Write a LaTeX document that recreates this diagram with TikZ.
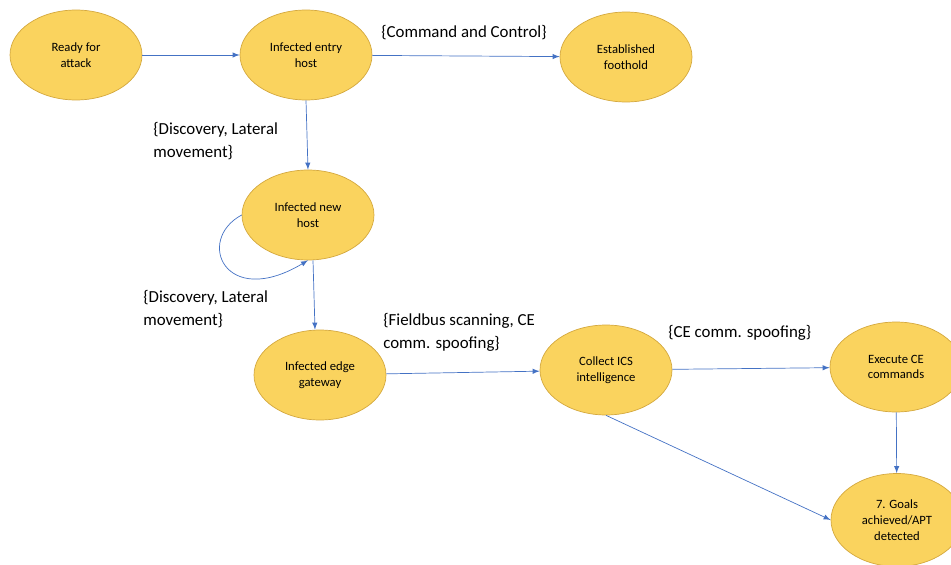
\documentclass[tikz,border=0pt]{standalone}
\usepackage{fontspec}
\setmainfont{Carlito}
\usetikzlibrary{shapes.geometric}
\definecolor{stfill}{RGB}{250,211,94}
\definecolor{stline}{RGB}{212,168,62}
\definecolor{flowblue}{RGB}{68,114,196}
\tikzset{
  state/.style={ellipse, draw=stline, fill=stfill, thin, minimum width=2.64cm, minimum height=1.8cm, inner sep=0pt, align=center, font=\fontsize{7.2}{9}\selectfont},
  flow/.style={draw=flowblue, thin, -latex},
  tactic/.style={anchor=west, inner sep=0pt, align=left, font=\fontsize{9.6}{13}\selectfont}
}
\begin{document}
\begin{tikzpicture}[x=0.02cm, y=-0.02cm]
        \useasboundingbox (0,0) rectangle (951,565);
        \clip (0,0) rectangle (951,565);

        \node[state] (ready) at (76,55) {Ready for\\attack};
        \node[state] (entry) at (306,55) {Infected entry\\host};
        \node[state] (foothold) at (626,57) {Established\\foothold};
        \node[state] (newhost) at (308,215) {Infected new\\host};
        \node[state] (edge) at (320,375) {Infected edge\\gateway};
        \node[state] (collect) at (606,370) {Collect ICS\\intelligence};
        \node[state] (execute) at (896,367) {Execute CE\\commands};
        \node[state, minimum height=1.86cm] (goals) at (897,520) {7. Goals\\achieved/APT\\detected};

        \node[tactic] (cc) at (381,33) {\{Command and Control\}};
        \node[tactic] (disc1) at (153,141) {\{Discovery, Lateral\\movement\}};
        \node[tactic] (disc2) at (143,309) {\{Discovery, Lateral\\movement\}};
        \node[tactic] (fieldbus) at (383,332) {\{Fieldbus scanning, CE\\comm. spoofing\}};
        \node[tactic] (spoof) at (668,333) {\{CE comm. spoofing\}};

        \draw[flow] (ready) -- (entry);
        \draw[flow] (entry) -- (foothold);
        \draw[flow] (entry.south) -- (newhost.north);
        \draw[flow] (newhost.west) .. controls (195,240) and (225,310) .. (newhost.south);
        \draw[flow] ([xshift=0.1cm]newhost.south) -- ([xshift=-0.1cm]edge.north);
        \draw[flow] (edge) -- (collect);
        \draw[flow] (collect) -- (execute);
        \draw[flow] (execute) -- (goals);
        \draw[flow] (collect.south) -- (goals.west);
\end{tikzpicture}
\end{document}
